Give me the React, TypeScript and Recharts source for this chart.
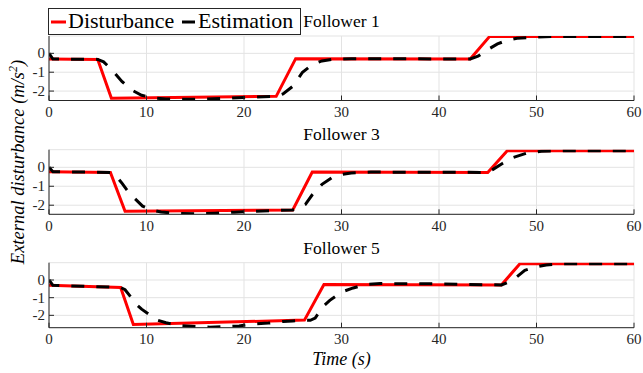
import React from 'react';
import { LineChart, Line, XAxis, YAxis, CartesianGrid } from 'recharts';

const timeTicks = [0, 10, 20, 30, 40, 50, 60];
const valueTicks = [-2, -1, 0];
const titles = ['Follower 1', 'Follower 3', 'Follower 5'];
const seriesNames = ['Disturbance', 'Estimation'];

// Follower 1
const f1DistT = [0, 5, 6.4, 23.3, 25.3, 43.2, 45.2, 60];
const f1DistV = [-0.3, -0.32, -2.38, -2.28, -0.28, -0.3, 0.9, 0.9];
const f1EstT = [0, 0.4, 5, 5.6, 6.5, 7.5, 8.5, 9.5, 10.5, 12, 14, 16, 18, 20, 22, 23.3, 24, 25, 26, 27, 28, 29, 31, 43.2, 44, 45, 46, 47, 48, 50, 52, 60];
const f1EstV = [0, -0.3, -0.32, -0.45, -0.9, -1.5, -1.95, -2.22, -2.35, -2.42, -2.44, -2.43, -2.39, -2.34, -2.3, -2.28, -2.15, -1.75, -1.0, -0.6, -0.4, -0.32, -0.28, -0.3, -0.15, 0.2, 0.5, 0.7, 0.8, 0.87, 0.9, 0.9];

// Follower 3
const f3DistT = [0, 6.3, 7.8, 25, 27, 45, 47, 60];
const f3DistV = [-0.23, -0.27, -2.32, -2.25, -0.25, -0.27, 0.87, 0.87];
const f3EstT = [0, 0.4, 6.3, 6.8, 7.5, 8, 8.8, 9.6, 10.5, 11.5, 13, 15, 17, 19, 21, 23, 25, 25.6, 26.3, 27, 28, 29, 30, 31, 33, 45, 45.5, 46.5, 47.5, 49, 50.5, 53, 60];
const f3EstV = [0, -0.23, -0.27, -0.4, -0.85, -1.2, -1.65, -2.05, -2.25, -2.36, -2.43, -2.45, -2.42, -2.37, -2.32, -2.28, -2.25, -2.15, -1.95, -1.45, -0.9, -0.55, -0.38, -0.3, -0.25, -0.27, -0.12, 0.2, 0.5, 0.75, 0.85, 0.88, 0.87];

// Follower 5
const f5DistT = [0, 7.35, 8.65, 26.2, 28.2, 46.4, 48.3, 60];
const f5DistV = [-0.3, -0.42, -2.52, -2.27, -0.25, -0.28, 0.92, 0.92];
const f5EstT = [0, 0.4, 7.35, 7.8, 8.3, 8.8, 9.5, 10.4, 11, 12, 13.5, 15.5, 16.5, 18, 19.5, 21, 22.5, 24, 25, 26.2, 26.8, 27.3, 28.1, 28.8, 30, 31.2, 32.5, 34, 40, 46.4, 47, 48, 48.8, 50, 51, 52.5, 60];
const f5EstV = [0, -0.3, -0.42, -0.55, -0.9, -1.3, -1.65, -2.0, -2.25, -2.42, -2.58, -2.64, -2.67, -2.64, -2.6, -2.48, -2.44, -2.35, -2.32, -2.27, -2.28, -2.15, -1.5, -1.15, -0.68, -0.45, -0.25, -0.2, -0.22, -0.28, -0.15, 0.19, 0.55, 0.75, 0.85, 0.92, 0.92];

const domains: [number, number][] = [[-2.5, 0.92], [-2.48, 0.93], [-2.7, 0.98]];

const zip = (t: number[], v: number[]) => t.map((x, i) => ({ t: x, v: v[i] }));

const panels = [
  { dist: zip(f1DistT, f1DistV), est: zip(f1EstT, f1EstV) },
  { dist: zip(f3DistT, f3DistV), est: zip(f3EstT, f3EstV) },
  { dist: zip(f5DistT, f5DistV), est: zip(f5EstT, f5EstV) },
];

// layout (pixels)
const layout = [
  { top: 0, height: 120, mt: 36, xh: 19.5, titleY: 27 },
  { top: 120, height: 115, mt: 29.7, xh: 20.7, titleY: 140 },
  { top: 235, height: 138, mt: 27.7, xh: 45.3, titleY: 253.5 },
];

const AXIS = '#262626';
const GRID = '#e3e3e3';
const FONT = '"Liberation Serif", "Times New Roman", Times, "DejaVu Serif", serif';
const fs = (size: number, italic = false): React.CSSProperties => ({
  fontFamily: FONT,
  fontSize: size,
  fontStyle: italic ? 'italic' : 'normal',
});

const BottomTick = (p: any) => (
  <g>
    <line x1={p.x} y1={p.y} x2={p.x} y2={p.y - 5} stroke={AXIS} strokeWidth={1} />
    <text x={p.x} y={p.y + 16.5} textAnchor="middle" style={fs(15)} fill={AXIS}>
      {p.payload.value}
    </text>
  </g>
);
const TopTick = (p: any) => <line x1={p.x} y1={p.y} x2={p.x} y2={p.y + 5} stroke={AXIS} strokeWidth={1} />;
const LeftTick = (p: any) => (
  <g>
    <line x1={p.x} y1={p.y} x2={p.x + 5} y2={p.y} stroke={AXIS} strokeWidth={1} />
    <text x={p.x - 4} y={p.y + 5} textAnchor="end" style={fs(15)} fill={AXIS}>
      {p.payload.value}
    </text>
  </g>
);
const RightTick = (p: any) => <line x1={p.x} y1={p.y} x2={p.x - 5} y2={p.y} stroke={AXIS} strokeWidth={1} />;

function Panel({ idx }: { idx: number }) {
  const L = layout[idx];
  const P = panels[idx];
  return (
    <div style={{ position: 'absolute', left: 0, top: L.top, width: 643, height: L.height }}>
      <LineChart width={643} height={L.height} margin={{ top: L.mt, right: 9, bottom: 0, left: 0 }}>
        <CartesianGrid xAxisId="b" yAxisId="l" stroke={GRID} strokeWidth={1} />
        <XAxis
          xAxisId="b"
          dataKey="t"
          type="number"
          domain={[0, 60]}
          ticks={timeTicks}
          interval={0}
          height={L.xh}
          tickSize={0}
          tickMargin={0}
          tickLine={false}
          axisLine={{ stroke: AXIS, strokeWidth: 1 }}
          tick={BottomTick}
          allowDataOverflow
        />
        <XAxis
          xAxisId="t"
          orientation="top"
          dataKey="t"
          type="number"
          domain={[0, 60]}
          ticks={timeTicks}
          interval={0}
          height={0}
          tickSize={0}
          tickMargin={0}
          tickLine={false}
          axisLine={{ stroke: AXIS, strokeWidth: 1 }}
          tick={TopTick}
          allowDataOverflow
        />
        <YAxis
          yAxisId="l"
          type="number"
          domain={domains[idx]}
          ticks={valueTicks}
          interval={0}
          width={49}
          tickSize={0}
          tickMargin={0}
          tickLine={false}
          axisLine={{ stroke: AXIS, strokeWidth: 1 }}
          tick={LeftTick}
          allowDataOverflow
        />
        <YAxis
          yAxisId="r"
          orientation="right"
          type="number"
          domain={domains[idx]}
          ticks={valueTicks}
          interval={0}
          width={0}
          tickSize={0}
          tickMargin={0}
          tickLine={false}
          axisLine={{ stroke: AXIS, strokeWidth: 1 }}
          tick={RightTick}
          allowDataOverflow
        />
        <Line
          xAxisId="b"
          yAxisId="l"
          data={P.dist}
          dataKey="v"
          name={seriesNames[0]}
          type="linear"
          stroke="#ff0000"
          strokeWidth={3}
          dot={false}
          activeDot={false}
          isAnimationActive={false}
        />
        <Line
          xAxisId="b"
          yAxisId="l"
          data={P.est}
          dataKey="v"
          name={seriesNames[1]}
          type="linear"
          stroke="#000000"
          strokeWidth={3}
          strokeDasharray="13 12"
          dot={false}
          activeDot={false}
          isAnimationActive={false}
        />
      </LineChart>
    </div>
  );
}

export default function App() {
  return (
    <div style={{ position: 'absolute', left: 0, top: 0, width: 643, height: 373, background: '#fff', overflow: 'hidden' }}>
      {[0, 1, 2].map((i) => (
        <Panel key={i} idx={i} />
      ))}
      <svg width={643} height={373} style={{ position: 'absolute', left: 0, top: 0, pointerEvents: 'none' }}>
        {layout.map((L, i) => (
          <text key={i} x={341.5} y={L.titleY} textAnchor="middle" style={fs(17.5)} fill="#000">
            {titles[i]}
          </text>
        ))}
        <rect x={48.5} y={8.5} width={252} height={26} fill="#fff" stroke={AXIS} strokeWidth={1} />
        <line x1={51} y1={22} x2={66} y2={22} stroke="#ff0000" strokeWidth={3} />
        <text x={68} y={27.5} style={fs(22)} fill="#000">{seriesNames[0]}</text>
        <line x1={182} y1={22} x2={195} y2={22} stroke="#000" strokeWidth={3} />
        <text x={198} y={27.5} style={fs(22)} fill="#000">{seriesNames[1]}</text>
        <text x={0} y={0} transform="translate(24 162) rotate(-90)" textAnchor="middle" style={fs(18.5, true)} fill="#000">
          External disturbance (m/s<tspan style={{ fontSize: 12 }} dy={-7}>2</tspan>
          <tspan dy={7}>)</tspan>
        </text>
        <text x={341.5} y={365} textAnchor="middle" style={fs(18, true)} fill="#000">
          Time (s)
        </text>
      </svg>
    </div>
  );
}
